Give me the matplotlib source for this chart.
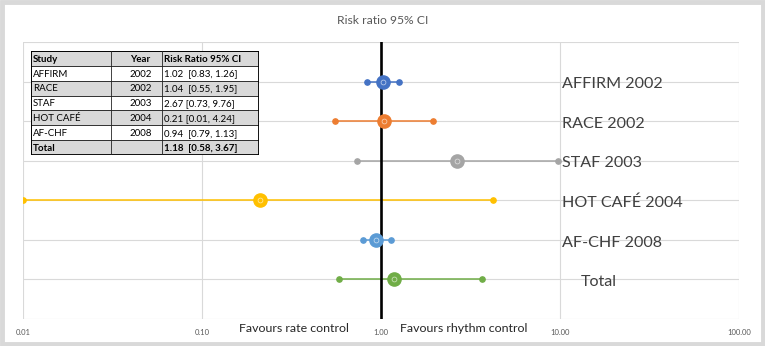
import numpy as np
import matplotlib.pyplot as plt
from matplotlib.patches import Rectangle

plt.rcParams['font.family'] = ['Lato', 'DejaVu Sans']

# --- data -------------------------------------------------------------
studies = ["AFFIRM", "RACE", "STAF", "HOT CAFÉ", "AF-CHF", "Total"]
years = ["2002", "2002", "2003", "2004", "2008", ""]
rr = [1.02, 1.04, 2.67, 0.21, 0.94, 1.18]
ci_low = [0.83, 0.55, 0.73, 0.01, 0.79, 0.58]
ci_high = [1.26, 1.95, 9.76, 4.24, 1.13, 3.67]
row_labels = ["AFFIRM 2002", "RACE 2002", "STAF 2003", "HOT CAFÉ 2004", "AF-CHF 2008", "Total"]
colors = ["#4472C4", "#ED7D31", "#A5A5A5", "#FFC000", "#5B9BD5", "#70AD47"]
xticks = [0.01, 0.1, 1, 10, 100]
xtick_labels = ["0.01", "0.10", "1.00", "10.00", "100.00"]
table_header = ["Study", "Year", "Risk Ratio 95% CI"]
table_ci = ["1.02  [0.83, 1.26]", "1.04  [0.55, 1.95]", "2.67 [0.73, 9.76]",
            "0.21 [0.01, 4.24]", "0.94  [0.79, 1.13]", "1.18  [0.58, 3.67]"]

W, H = 765, 346
fig = plt.figure(figsize=(W / 100, H / 100), dpi=100)

# light gray frame round the whole chart
fig.patches.append(Rectangle((0.003, 0.006), 0.994, 0.988, transform=fig.transFigure,
                             fill=False, edgecolor='#d9d9d9', linewidth=3.5))

# --- forest plot ------------------------------------------------------
ax = fig.add_axes([23 / W, 27 / H, (739 - 23) / W, (319 - 42) / H])
ax.set_xscale('log')
ax.set_xlim(0.01, 100)
ax.set_ylim(0, 7)
for s in ax.spines.values():
    s.set_visible(False)
ax.set_yticks(range(8))
ax.set_yticklabels([])
ax.set_xticks(xticks)
ax.set_xticklabels(xtick_labels, fontsize=5.5, color='#595959')
ax.minorticks_off()
ax.tick_params(length=0, pad=7)
ax.grid(True, color='#d9d9d9', linewidth=0.8)
ax.set_axisbelow(True)

n = len(studies)
for i in range(n):
    y = n - i
    c = colors[i]
    ax.plot([ci_low[i], ci_high[i]], [y, y], color=c, linewidth=1.1, zorder=3)
    ax.plot([ci_low[i], ci_high[i]], [y, y], 'o', color=c, markersize=3.8, zorder=4)
    ax.plot(rr[i], y, 'o', color=c, markersize=9.5, zorder=5)
    ax.plot(rr[i], y, 'o', markerfacecolor='none', markeredgecolor='white',
            markeredgewidth=0.5, markersize=3.5, alpha=0.7, zorder=6)
    lx = 13.1 if row_labels[i] == "Total" else 10.3
    ax.text(lx, y - 0.07, row_labels[i], fontsize=11.6, color='#404040', va='center', ha='left')

ax.axvline(1, color='black', linewidth=1.9, zorder=4)

fig.text(383 / W, 1 - 20 / H, "Risk ratio 95% CI", fontsize=8.7, color='#595959', ha='center', va='center')
fig.text(294 / W, 1 - 329 / H, "Favours rate control", fontsize=8.9, color='#262626', ha='center', va='center')
fig.text(464 / W, 1 - 329 / H, "Favours rhythm control", fontsize=8.9, color='#262626', ha='center', va='center')

# --- summary table ----------------------------------------------------
tx0, tx1, ty0, ty1 = 31, 259, 51, 155
tab = fig.add_axes([tx0 / W, 1 - ty1 / H, (tx1 - tx0) / W, (ty1 - ty0) / H])
tab.set_xlim(0, tx1 - tx0)
tab.set_ylim(n + 1, 0)
tab.axis('off')
col_x = [0, 80, 131, tx1 - tx0]
rows = [table_header] + [[studies[i], years[i], table_ci[i]] for i in range(n)]
for r, row in enumerate(rows):
    shade = '#d9d9d9' if r % 2 == 0 else 'white'
    tab.add_patch(Rectangle((0, r), col_x[-1], 1, facecolor=shade, edgecolor='#222222', linewidth=0.6))
    bold = r == 0 or r == n
    for k, txt in enumerate(row):
        if k == 1:
            tab.text((col_x[1] + col_x[2]) / 2 + 4, r + 0.55, txt, fontsize=7, ha='center', va='center',
                     fontweight='bold' if bold else 'normal', color='black')
        else:
            tab.text(col_x[k] + 2, r + 0.55, txt, fontsize=7, ha='left', va='center',
                     fontweight='bold' if bold else 'normal', color='black')
for cx in col_x[1:-1]:
    tab.plot([cx, cx], [0, n + 1], color='#222222', linewidth=0.6)
tab.add_patch(Rectangle((0, 0), col_x[-1], n + 1, fill=False, edgecolor='black', linewidth=1.3))

fig.savefig('out.png', dpi=100)
